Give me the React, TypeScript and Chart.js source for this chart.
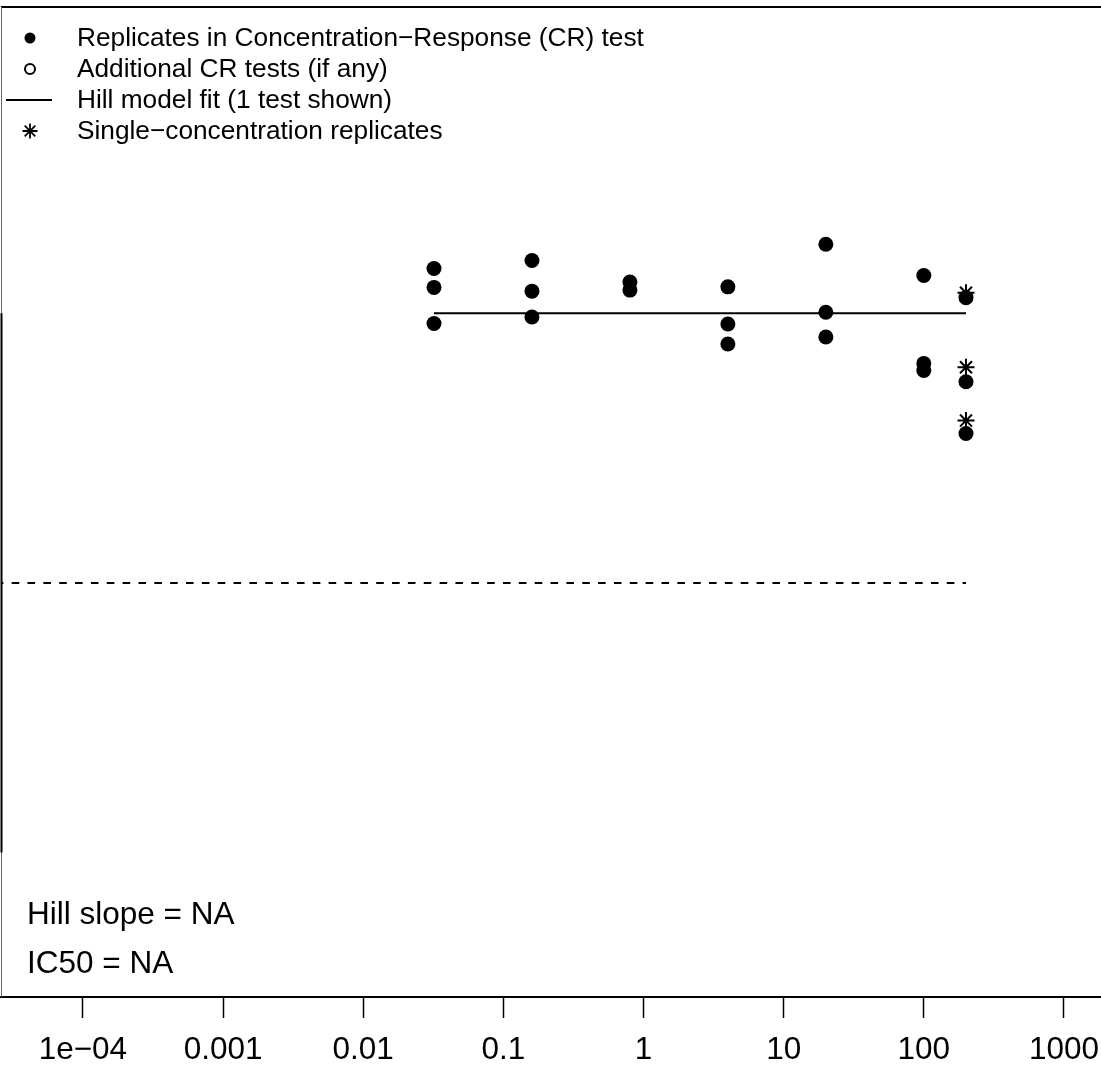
import React, { useEffect, useRef } from "react";
import { Chart, registerables } from "chart.js";

Chart.register(...registerables);

// Concentration-response replicates (concentration, % response)
const crConc = [0.032, 0.032, 0.032, 0.16, 0.16, 0.16, 0.8, 0.8, 4, 4, 4, 20, 20, 20, 100, 100, 100, 200, 200, 200];
const crResp = [108.3, 104.8, 98.1, 109.8, 104.1, 99.3, 105.8, 104.3, 104.9, 98.0, 94.3, 112.8, 100.2, 95.6, 107.0, 90.7, 89.4, 102.9, 87.3, 77.7];
// Single-concentration replicates
const scConc = [200, 200, 200];
const scResp = [103.8, 90.0, 80.1];
// Hill model fit (flat)
const fitConc = [0.032, 200];
const fitResp = [100, 100];
// 50% reference line
const refConc = [2.39e-5, 200];
const refResp = [50, 50];
// Axis ticks
const xTickValues = [1e-4, 1e-3, 1e-2, 1e-1, 1, 10, 100, 1000];
const xTickLabels = ["1e\u221204", "0.001", "0.01", "0.1", "1", "10", "100", "1000"];
// Legend and annotations
const legendLabels = [
  "Replicates in Concentration\u2212Response (CR) test",
  "Additional CR tests (if any)",
  "Hill model fit (1 test shown)",
  "Single\u2212concentration replicates",
];
const noteLabels = ["Hill slope = NA", "IC50 = NA"];

const FONT = "'Liberation Sans', Arial, Helvetica, sans-serif";

const decorPlugin = {
  id: "decor",
  afterDraw(chart: any) {
    const { ctx, chartArea, scales } = chart;
    const y = scales.y;
    ctx.save();
    // box: top, left
    ctx.strokeStyle = "#000";
    ctx.lineWidth = 2;
    ctx.beginPath();
    ctx.moveTo(chartArea.left, chartArea.top);
    ctx.lineTo(chartArea.right + 5, chartArea.top);
    ctx.stroke();
    ctx.strokeStyle = "#666";
    ctx.lineWidth = 1;
    ctx.beginPath();
    ctx.moveTo(chartArea.left + 0.5, chartArea.top);
    ctx.lineTo(chartArea.left + 0.5, chartArea.bottom);
    ctx.stroke();
    // y axis segment 0..100
    ctx.strokeStyle = "#000";
    ctx.lineWidth = 2;
    ctx.beginPath();
    ctx.moveTo(chartArea.left + 0.5, y.getPixelForValue(0));
    ctx.lineTo(chartArea.left + 0.5, y.getPixelForValue(100));
    ctx.stroke();

    // legend
    const lx = chartArea.left + 29;
    const rows = [38, 69, 100, 131];
    ctx.fillStyle = "#000";
    ctx.font = `26.25px ${FONT}`;
    ctx.textBaseline = "middle";
    ctx.textAlign = "left";
    legendLabels.forEach((t, i) => ctx.fillText(t, chartArea.left + 76, rows[i] + 1));
    // filled dot
    ctx.beginPath();
    ctx.arc(lx, rows[0], 5.5, 0, Math.PI * 2);
    ctx.fill();
    // open circle
    ctx.lineWidth = 2;
    ctx.beginPath();
    ctx.arc(lx, rows[1], 5, 0, Math.PI * 2);
    ctx.stroke();
    // line
    ctx.beginPath();
    ctx.moveTo(chartArea.left + 5, rows[2]);
    ctx.lineTo(chartArea.left + 51, rows[2]);
    ctx.stroke();
    // star
    ctx.lineWidth = 1.8;
    const r = 7.5;
    ctx.beginPath();
    for (let k = 0; k < 4; k++) {
      const a = (k * Math.PI) / 4;
      ctx.moveTo(lx - r * Math.cos(a), rows[3] - r * Math.sin(a));
      ctx.lineTo(lx + r * Math.cos(a), rows[3] + r * Math.sin(a));
    }
    ctx.stroke();

    // notes
    ctx.font = `31.5px ${FONT}`;
    ctx.textBaseline = "alphabetic";
    ctx.fillText(noteLabels[0], chartArea.left + 26, 924);
    ctx.fillText(noteLabels[1], chartArea.left + 26, 973);
    ctx.restore();
  },
};

export default function App() {
  const ref = useRef<HTMLCanvasElement | null>(null);
  useEffect(() => {
    if (!ref.current) return;
    const xMinLog = -4.5844;
    const xMaxLog = -4.5844 + 1100 / 140.15;
    const chart = new Chart(ref.current, {
      type: "scatter",
      data: {
        datasets: [
          {
            label: "ref",
            data: refConc.map((c, i) => ({ x: c, y: refResp[i] })),
            showLine: true,
            borderColor: "#000",
            borderWidth: 2,
            borderDash: [7.6, 8.25],
            pointRadius: 0,
            fill: false,
          },
          {
            label: "fit",
            data: fitConc.map((c, i) => ({ x: c, y: fitResp[i] })),
            showLine: true,
            borderColor: "#000",
            borderWidth: 2,
            pointRadius: 0,
            fill: false,
          },
          {
            label: "cr",
            data: crConc.map((c, i) => ({ x: c, y: crResp[i] })),
            pointRadius: 7.5,
            pointBackgroundColor: "#000",
            pointBorderWidth: 0,
            borderColor: "#000",
          },
          {
            label: "sc",
            data: scConc.map((c, i) => ({ x: c, y: scResp[i] })),
            pointStyle: "star",
            pointRadius: 8.5,
            pointBorderWidth: 2,
            pointBorderColor: "#000",
            pointBackgroundColor: "#000",
            borderColor: "#000",
          },
        ],
      },
      options: {
        responsive: false,
        animation: false,
        events: [],
        layout: { autoPadding: false, padding: { left: 1, top: 7, right: 0, bottom: 0 } },
        plugins: { legend: { display: false }, tooltip: { enabled: false }, title: { display: false } },
        scales: {
          x: {
            type: "logarithmic",
            min: Math.pow(10, xMinLog),
            max: Math.pow(10, xMaxLog),
            afterBuildTicks: (scale: any) => {
              scale.ticks = xTickValues.map((v) => ({ value: v }));
            },
            afterFit: (scale: any) => {
              scale.height = 73;
              scale.paddingLeft = 0;
              scale.paddingRight = 0;
            },
            border: { display: true, color: "#000", width: 2 },
            grid: { display: true, drawOnChartArea: false, drawTicks: true, tickLength: 21, tickWidth: 1.5, tickColor: "#000" },
            ticks: {
              autoSkip: false,
              maxRotation: 0,
              padding: 13,
              color: "#000",
              font: { family: FONT, size: 31.5 },
              callback: (v: any) => {
                const idx = xTickValues.findIndex((t) => Math.abs(Math.log10(t) - Math.log10(Number(v))) < 1e-6);
                return idx >= 0 ? xTickLabels[idx] : "";
              },
            },
          },
          y: {
            type: "linear",
            display: false,
            min: -26.8,
            max: 156.8,
          },
        },
      },
      plugins: [decorPlugin],
    });
    return () => chart.destroy();
  }, []);
  return (
    <div style={{ position: "absolute", left: 0, top: 0, width: 1101, height: 1070, background: "#fff" }}>
      <canvas ref={ref} width={1101} height={1070} style={{ width: 1101, height: 1070, display: "block" }} />
    </div>
  );
}
